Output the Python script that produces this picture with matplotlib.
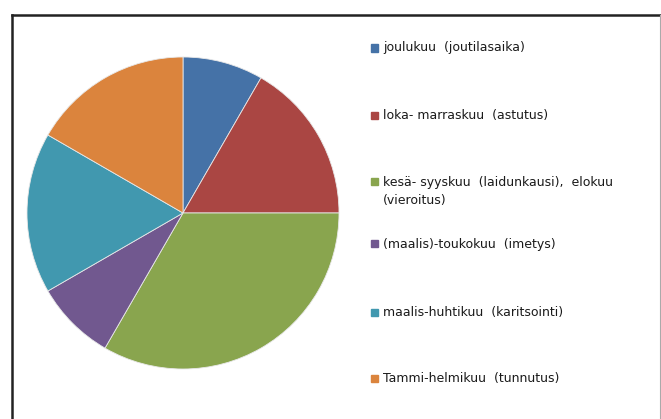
import matplotlib.pyplot as plt
from matplotlib.lines import Line2D
from matplotlib.patches import Rectangle

# data
labels = [
    "joulukuu  (joutilasaika)",
    "loka- marraskuu  (astutus)",
    "kesä- syyskuu  (laidunkausi),  elokuu\n(vieroitus)",
    "(maalis)-toukokuu  (imetys)",
    "maalis-huhtikuu  (karitsointi)",
    "Tammi-helmikuu  (tunnutus)",
]
values = [1, 2, 4, 1, 2, 2]
colors = ["#4572A7", "#AA4643", "#89A54E", "#71588F", "#4198AF", "#DB843D"]

# legend row positions (pixels from top, first line of each entry)
legend_y = [48, 116, 182, 244, 312, 378]
line_step = 18

W, H = 661, 419
fig = plt.figure(figsize=(W / 100, H / 100), dpi=100)

# pie axes: centre (183, 213), radius 156 px
cx, cy, r = 183, 213, 156
ax = fig.add_axes([(cx - r) / W, (H - cy - r) / H, 2 * r / W, 2 * r / H])
ax.pie(values, colors=colors, startangle=90, counterclock=False,
       wedgeprops=dict(edgecolor="#e8e8e8", linewidth=0.6))
ax.set_xlim(-1, 1)
ax.set_ylim(-1, 1)
ax.set_aspect("equal")
ax.axis("off")

# legend drawn by hand to follow the uneven spacing
for lab, col, y in zip(labels, colors, legend_y):
    fig.patches.append(Rectangle((371 / W, (H - y - 3.5) / H), 7 / W, 7 / H,
                                 transform=fig.transFigure, color=col))
    for i, part in enumerate(lab.split("\n")):
        fig.text(383 / W, (H - y - i * line_step) / H, part, fontsize=9,
                 family="DejaVu Sans", color="#1a1a1a", ha="left", va="center")

# outer frame (left/top dark, right light)
fig.lines.append(Line2D([12 / W, 12 / W], [0, (H - 15) / H], color="#222222",
                        lw=1.8, transform=fig.transFigure))
fig.lines.append(Line2D([12 / W, 660 / W], [(H - 15) / H, (H - 15) / H],
                        color="#222222", lw=1.8, transform=fig.transFigure))
fig.lines.append(Line2D([660 / W, 660 / W], [0, (H - 15) / H], color="#aaaaaa",
                        lw=0.8, transform=fig.transFigure))

fig.savefig("out.png", dpi=100)
